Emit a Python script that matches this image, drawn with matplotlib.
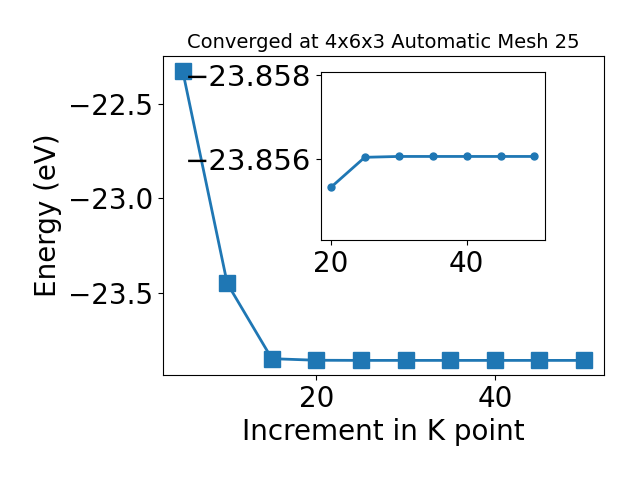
import matplotlib
matplotlib.use("Agg")
import matplotlib.pyplot as plt

# k-point convergence data
kpoints = [5, 10, 15, 20, 25, 30, 35, 40, 45, 50]
energies = [-22.324, -23.449, -23.847, -23.85534, -23.85605, -23.85607,
            -23.85607, -23.85607, -23.85607, -23.85607]

inset_kpoints = kpoints[3:]
inset_energies = energies[3:]

main_xticks = [20, 40]
main_yticks = [-22.5, -23.0, -23.5]
inset_xticks = [20, 40]
inset_yticks = [-23.858, -23.856]

fig = plt.figure(figsize=(6.4, 4.8), dpi=100)
ax = fig.add_axes([0.254, 0.219, 0.69, 0.664])
ax.plot(kpoints, energies, marker="s", markersize=11, linewidth=2, color="C0")
ax.set_xticks(main_xticks)
ax.set_yticks(main_yticks)
ax.set_xlabel("Increment in K point", fontsize=20)
ax.set_ylabel("Energy (eV)", fontsize=20)
ax.tick_params(labelsize=20)
ax.set_title("Converged at 4x6x3 Automatic Mesh 25", fontsize=14)

ins = fig.add_axes([0.501, 0.5, 0.35, 0.349])
ins.plot(inset_kpoints, inset_energies, marker="o", markersize=5, linewidth=2, color="C0")
ins.set_ylim(-23.8541, -23.85805)
ins.set_xticks(inset_xticks)
ins.set_yticks(inset_yticks)
ins.ticklabel_format(axis="y", useOffset=False)
ins.tick_params(axis="x", labelsize=20)
ins.tick_params(axis="y", labelsize=21)

fig.savefig("out.png", dpi=100)
